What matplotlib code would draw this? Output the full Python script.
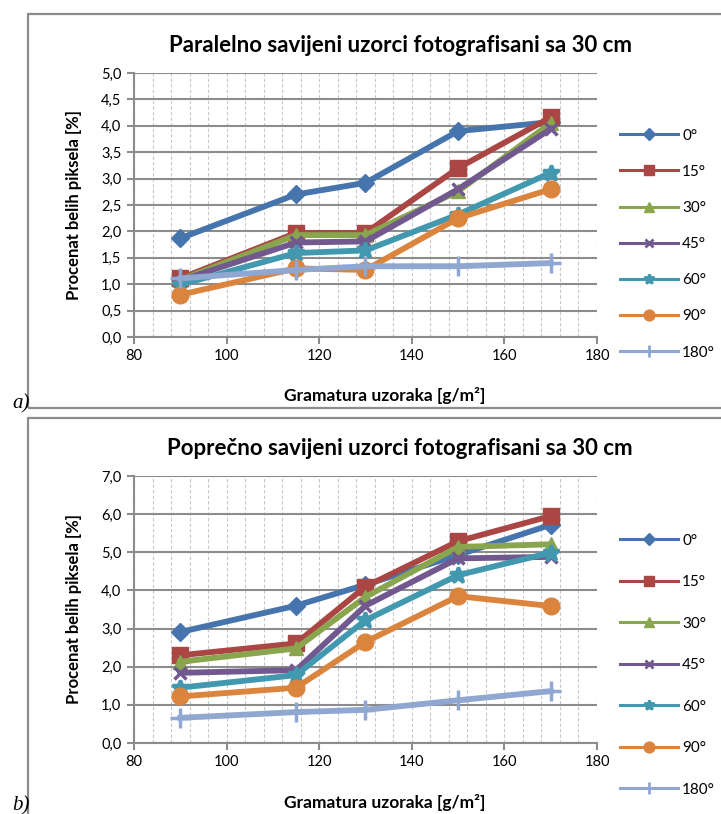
import numpy as np
import matplotlib
matplotlib.use("Agg")
import matplotlib.pyplot as plt
from matplotlib.lines import Line2D
from matplotlib.patches import Rectangle
from matplotlib.ticker import MultipleLocator, FuncFormatter

plt.rcParams['font.family'] = ['Lato', 'DejaVu Sans']

# podaci
gramatura = [90, 115, 130, 150, 170]
uglovi = ['0°', '15°', '30°', '45°', '60°', '90°', '180°']

paralelno = {
    '0°':   [1.87, 2.70, 2.92, 3.90, 4.07],
    '15°':  [1.11, 1.97, 1.97, 3.20, 4.16],
    '30°':  [1.08, 1.93, 1.93, 2.76, 4.05],
    '45°':  [1.07, 1.79, 1.81, 2.80, 3.94],
    '60°':  [0.99, 1.59, 1.64, 2.32, 3.11],
    '90°':  [0.80, 1.30, 1.27, 2.25, 2.80],
    '180°': [1.11, 1.27, 1.34, 1.34, 1.40],
}
poprecno = {
    '0°':   [2.91, 3.60, 4.15, 4.93, 5.72],
    '15°':  [2.30, 2.61, 4.10, 5.29, 5.95],
    '30°':  [2.13, 2.48, 3.83, 5.14, 5.21],
    '45°':  [1.84, 1.91, 3.60, 4.84, 4.88],
    '60°':  [1.45, 1.78, 3.22, 4.40, 4.99],
    '90°':  [1.22, 1.45, 2.65, 3.85, 3.59],
    '180°': [0.66, 0.81, 0.87, 1.12, 1.36],
}

boje = ['#4674AC', '#AA4643', '#89A54E', '#71588F', '#4198AF', '#DB843D', '#8FA7D1']
markeri = ['D', 's', '^', 'x', '*', 'o', '+']
vel = [9, 11, 10, 9, 12, 12, 14]

W, H = 721, 814
fig = plt.figure(figsize=(W / 100, H / 100), dpi=100)


def px_axes(l, t, r, b):
    return fig.add_axes([l / W, 1 - b / H, (r - l) / W, (b - t) / H])


def okvir(l, t, r, b):
    fig.patches.append(Rectangle((l / W, 1 - b / H), (r - l) / W, (b - t) / H,
                                 transform=fig.transFigure, fill=False,
                                 edgecolor='#8C8C8C', lw=1.6))


def crtaj(ax, podaci, ymax, ystep, naslov, leg_top, leg_space):
    for i, u in enumerate(uglovi):
        mew = 2.5 if markeri[i] in ('x', '+', '*') else 1
        ax.plot(gramatura, podaci[u], color=boje[i], lw=4.2, marker=markeri[i],
                ms=vel[i], mew=mew, mec=boje[i], solid_joinstyle='round', zorder=3 + i * 0.1)
    ax.set_xlim(80, 180)
    ax.set_ylim(0, ymax)
    ax.xaxis.set_major_locator(MultipleLocator(20))
    ax.xaxis.set_minor_locator(MultipleLocator(4))
    ax.yaxis.set_major_locator(MultipleLocator(ystep))
    ax.yaxis.set_major_formatter(FuncFormatter(lambda v, p: f'{v:.1f}'.replace('.', ',')))
    ax.grid(True, axis='x', which='both', color='#C8C8C8', lw=0.8, ls=(0, (3, 2)))
    ax.grid(True, axis='y', which='major', color='#8C8C8C', lw=1.5)
    ax.set_axisbelow(True)
    for s in ['top', 'right']:
        ax.spines[s].set_visible(False)
    for s in ['left', 'bottom']:
        ax.spines[s].set_color('#8C8C8C')
        ax.spines[s].set_linewidth(1.5)
    ax.tick_params(axis='both', which='major', direction='out', length=5,
                   color='#8C8C8C', width=1.5, labelsize=10.5, pad=4)
    ax.tick_params(axis='x', which='minor', length=0)
    ax.set_ylabel('Procenat belih piksela [%]', fontsize=12, fontweight='bold', labelpad=14)
    ax.set_xlabel('Gramatura uzoraka [g/m²]', fontsize=12.5, fontweight='bold')
    ax.xaxis.set_label_coords(0.542, -0.19)
    ax.set_title(naslov, fontsize=16, fontweight='bold', pad=15, x=0.575)

    handles = [Line2D([], [], color=boje[i], lw=2.2, marker=markeri[i],
                      ms=vel[i] * 0.65, mew=2 if markeri[i] in ('x', '+', '*') else 1)
               for i in range(len(uglovi))]
    fig.legend(handles, uglovi, loc='upper left',
               bbox_to_anchor=(612 / W, 1 - leg_top / H),
               frameon=False, fontsize=11, handlelength=3.8,
               labelspacing=leg_space, handletextpad=0.3, borderpad=0)


okvir(28, 14, 740, 408)
okvir(28, 418, 740, 840)

ax1 = px_axes(134, 73, 597, 337)
crtaj(ax1, paralelno, 5.0, 0.5, 'Paralelno savijeni uzorci fotografisani sa 30 cm', 121, 1.45)

ax2 = px_axes(134, 476, 597, 743)
crtaj(ax2, poprecno, 7.0, 1.0, 'Poprečno savijeni uzorci fotografisani sa 30 cm', 526, 1.8)

fig.text(12 / W, 1 - 404 / H, 'a)', fontsize=15, style='italic',
         family=['Liberation Serif', 'DejaVu Serif'], va='center')
fig.text(12 / W, 1 - 806 / H, 'b)', fontsize=15, style='italic',
         family=['Liberation Serif', 'DejaVu Serif'], va='center')

fig.savefig('out.png', dpi=100)
